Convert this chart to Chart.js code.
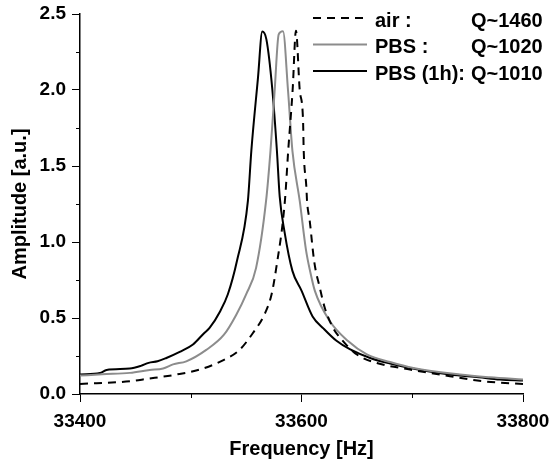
<!DOCTYPE html>
<html>
<head>
<meta charset="utf-8">
<script src="https://cdn.jsdelivr.net/npm/chart.js@4.4.1/dist/chart.umd.min.js"></script>
<style>
  html, body { margin: 0; padding: 0; background: #fff; }
  #wrap { width: 552px; height: 462px; }
</style>
</head>
<body>
<div id="wrap"><canvas id="chart" width="552" height="462"></canvas></div>
<script>
// values
const airFreq = [33400, 33445, 33460, 33487, 33510, 33530, 33544, 33556, 33567, 33573, 33577, 33585, 33588, 33592, 33595,
  33598.4, 33601.4, 33602, 33604.4, 33605, 33607.4, 33611.5, 33616.5, 33621, 33628.5, 33636, 33650, 33668, 33698, 33734, 33764, 33800];
const airAmp = [0.066, 0.084, 0.099, 0.128, 0.165, 0.225, 0.29, 0.40, 0.53, 0.656, 0.82, 1.27, 1.60, 2.0, 2.39,
  2.0, 1.80, 1.60, 1.36, 1.27, 1.14, 0.87, 0.70, 0.567, 0.435, 0.36, 0.26, 0.204, 0.161, 0.117, 0.084, 0.066];

const pbsFreq = [33400, 33420, 33445, 33463, 33475, 33484, 33496, 33514, 33530, 33541, 33550, 33559, 33568, 33572, 33575.8, 33579.4, 33583.3,
  33587.8, 33591.8, 33598.4, 33604, 33608, 33612, 33625.5, 33642, 33659, 33680, 33701, 33743, 33770, 33800];
const pbsAmp = [0.121, 0.130, 0.139, 0.158, 0.168, 0.195, 0.215, 0.29, 0.39, 0.52, 0.656, 0.83, 1.27, 1.60, 2.0, 2.366, 2.386,
  2.0, 1.60, 1.27, 0.95, 0.80, 0.68, 0.48, 0.348, 0.26, 0.21, 0.171, 0.128, 0.11, 0.095];

const pbs1hFreq = [33400, 33418, 33424, 33445, 33455, 33462, 33470, 33478, 33490, 33502, 33512, 33517, 33526.6, 33533.5, 33541.7, 33551.6,
  33554.7, 33560.7, 33564.6, 33568.3, 33573.7, 33577.8, 33580.3, 33584.6, 33591.8, 33600, 33610, 33620, 33631.6, 33644, 33662, 33680, 33698,
  33734, 33760, 33779, 33800];
const pbs1hAmp = [0.128, 0.138, 0.158, 0.167, 0.185, 0.205, 0.215, 0.237, 0.277, 0.326, 0.40, 0.435, 0.545, 0.656, 0.875, 1.27,
  1.60, 2.08, 2.385, 2.333, 2.0, 1.60, 1.30, 1.07, 0.81, 0.68, 0.51, 0.43, 0.35, 0.293, 0.237, 0.20, 0.171,
  0.128, 0.11, 0.095, 0.088];

const seriesNames = ['air :', 'PBS :', 'PBS (1h):'];
const qLabels = ['Q~1460', 'Q~1020', 'Q~1010'];
const xTicks = [33400, 33600, 33800];
const yTicks = [0, 0.5, 1.0, 1.5, 2.0, 2.5];

const FONT = '"Liberation Sans", Arial, sans-serif';

function toPoints(xs, ys) {
    return xs.map((x, i) => ({ x: x, y: ys[i] }));
}

// minor ticks + legend drawn on top
const extras = {
    id: 'extras',
    afterDraw(chart) {
        const ctx = chart.ctx;
        const xs = chart.scales.x, ys = chart.scales.y;
        const area = chart.chartArea;
        ctx.save();
        ctx.strokeStyle = '#000';
        ctx.lineWidth = 1;
        [33500, 33700].forEach(v => {
            const px = Math.round(xs.getPixelForValue(v)) + 0.5;
            ctx.beginPath(); ctx.moveTo(px, area.bottom); ctx.lineTo(px, area.bottom + 4); ctx.stroke();
        });
        [0.25, 0.75, 1.25, 1.75, 2.25].forEach(v => {
            const py = Math.round(ys.getPixelForValue(v)) + 0.5;
            ctx.beginPath(); ctx.moveTo(area.left, py); ctx.lineTo(area.left - 4, py); ctx.stroke();
        });

        const rows = [18, 44.5, 71];
        chart.data.datasets.forEach((ds, i) => {
            const y = rows[i];
            ctx.strokeStyle = ds.borderColor;
            ctx.lineWidth = ds.borderWidth;
            ctx.setLineDash(ds.borderDash || []);
            ctx.beginPath(); ctx.moveTo(313, y); ctx.lineTo(367, y); ctx.stroke();
            ctx.setLineDash([]);
            ctx.fillStyle = '#000';
            ctx.font = 'bold 20px ' + FONT;
            ctx.textBaseline = 'middle';
            ctx.textAlign = 'left';
            ctx.fillText(seriesNames[i], 375, y + 3);
            ctx.fillText(qLabels[i], 471, y + 3);
        });
        ctx.restore();
    }
};

new Chart(document.getElementById('chart'), {
    type: 'line',
    data: {
        datasets: [
            { label: seriesNames[0], data: toPoints(airFreq, airAmp), borderColor: '#000', borderWidth: 2, borderDash: [8, 6] },
            { label: seriesNames[1], data: toPoints(pbsFreq, pbsAmp), borderColor: '#8c8c8c', borderWidth: 2 },
            { label: seriesNames[2], data: toPoints(pbs1hFreq, pbs1hAmp), borderColor: '#000', borderWidth: 2 }
        ]
    },
    options: {
        responsive: false,
        animation: false,
        devicePixelRatio: 1,
        layout: { padding: { top: 14, right: 29, left: 0, bottom: 0 } },
        elements: {
            point: { radius: 0 },
            line: { cubicInterpolationMode: 'monotone', fill: false }
        },
        plugins: { legend: { display: false }, tooltip: { enabled: false } },
        scales: {
            x: {
                type: 'linear',
                min: 33400, max: 33800,
                afterFit(scale) { scale.height = 68; scale.paddingLeft = 0; scale.paddingRight = 0; },
                afterBuildTicks(scale) { scale.ticks = xTicks.map(v => ({ value: v })); },
                ticks: { color: '#000', font: { family: FONT, size: 19, weight: 'bold' }, padding: 8, callback: v => String(v) },
                grid: { drawOnChartArea: false, drawTicks: true, tickLength: 8, color: '#000', lineWidth: 1 },
                border: { color: '#000', width: 1.5 },
                title: { display: true, text: 'Frequency [Hz]', color: '#000', font: { family: FONT, size: 20, weight: 'bold' }, padding: { top: 0, bottom: 1 } }
            },
            y: {
                min: 0, max: 2.5,
                afterFit(scale) { scale.width = 80; scale.paddingTop = 0; scale.paddingBottom = 0; },
                afterBuildTicks(scale) { scale.ticks = yTicks.map(v => ({ value: v })); },
                ticks: { color: '#000', font: { family: FONT, size: 19, weight: 'bold' }, padding: 6, callback: v => v.toFixed(1) },
                grid: { drawOnChartArea: false, drawTicks: true, tickLength: 8, color: '#000', lineWidth: 1 },
                border: { color: '#000', width: 1.5 },
                title: { display: true, text: 'Amplitude [a.u.]', color: '#000', font: { family: FONT, size: 20, weight: 'bold' }, padding: { top: 8, bottom: 0 } }
            }
        }
    },
    plugins: [extras]
});
</script>
</body>
</html>
